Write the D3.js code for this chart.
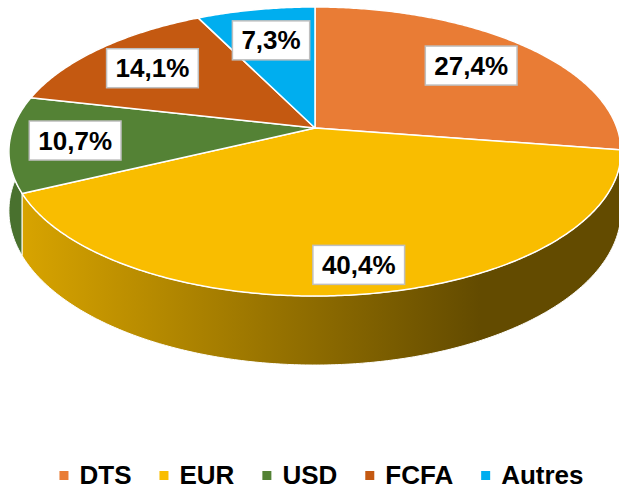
<!DOCTYPE html>
<html>
<head>
<meta charset="UTF-8">
<script src="https://cdn.jsdelivr.net/npm/d3@7"></script>
<style>
  body { margin: 0; background: #fff; }
  text { font-family: "Liberation Sans", Arial, sans-serif; font-weight: bold; }
</style>
</head>
<body>
<svg width="619" height="492"></svg>
<script>
// données
var categories = ["DTS", "EUR", "USD", "FCFA", "Autres"];
var shares = [27.4, 40.4, 10.7, 14.1, 7.3];
var colors = ["#E97C35", "#F9BD00", "#548235", "#C45911", "#00AEEF"];

var svg = d3.select("svg");
var width = +svg.attr("width");

// géométrie du camembert 3D (perspective)
var cx = 315, cy = 128;      // centre projeté
var rx = 302, ry = 140.7;    // demi-axes
var k = 0.1626;              // perspective
var depth = 57.8;            // épaisseur

var color = d3.scaleOrdinal(categories, colors);
var pct = d3.formatLocale({decimal: ",", thousands: " ", grouping: [3], currency: ["", ""]}).format(".1f");

function proj(a, r, h) {
  var u = r * Math.sin(a), v = r * Math.cos(a);
  var d = 1 + k * v;
  return [cx + rx * u / d, cy + (-ry * v + h * depth) / d];
}

function arcPts(a0, a1, h) {
  var n = Math.max(2, Math.ceil(Math.abs(a1 - a0) / 0.01));
  return d3.range(n + 1).map(function(i) { return proj(a0 + (a1 - a0) * i / n, 1, h); });
}

var line = d3.line();

var arcs = d3.pie().sort(null).value(function(d) { return d.value; })(
  categories.map(function(c, i) { return {name: c, value: shares[i]}; })
);

// dégradés des côtés
var defs = svg.append("defs");
arcs.forEach(function(d, i) {
  var base = d3.color(color(d.data.name));
  var g = defs.append("linearGradient")
    .attr("id", "side" + i)
    .attr("gradientUnits", "userSpaceOnUse")
    .attr("x1", 20).attr("x2", 480).attr("y1", 0).attr("y2", 0);
  g.append("stop").attr("offset", 0).attr("stop-color", base.darker(0.4));
  g.append("stop").attr("offset", 1).attr("stop-color", base.darker(2.6));
});

var g = svg.append("g");

// côtés, de l'arrière vers l'avant
var sides = arcs.slice().sort(function(a, b) {
  return Math.cos((b.startAngle + b.endAngle) / 2) - Math.cos((a.startAngle + a.endAngle) / 2);
});
g.append("g").selectAll("path")
  .data(sides)
  .enter()
  .append("path")
  .attr("d", function(d) {
    var top = arcPts(d.startAngle, d.endAngle, 0);
    var bot = arcPts(d.endAngle, d.startAngle, 1);
    return line(top.concat(bot)) + "Z";
  })
  .attr("fill", function(d) { return "url(#side" + d.index + ")"; })
  .attr("stroke", "#fff")
  .attr("stroke-width", 1);

// faces du dessus
g.append("g").selectAll("path")
  .data(arcs)
  .enter()
  .append("path")
  .attr("d", function(d) {
    return line([[cx, cy]].concat(arcPts(d.startAngle, d.endAngle, 0))) + "Z";
  })
  .attr("fill", function(d) { return color(d.data.name); })
  .attr("stroke", "#fff")
  .attr("stroke-width", 1.5)
  .attr("stroke-linejoin", "round");

// étiquettes
var labels = g.append("g").selectAll("g")
  .data(arcs)
  .enter()
  .append("g")
  .attr("transform", function(d) {
    var a = (d.startAngle + d.endAngle) / 2;
    var f = 0.78 - 0.07 * Math.cos(a);
    var p = proj(a, f, 0);
    return "translate(" + p[0] + "," + p[1] + ")";
  });

labels.append("rect")
  .attr("fill", "#fff")
  .attr("stroke", "#BFBFBF")
  .attr("stroke-width", 1.5);

labels.append("text")
  .attr("text-anchor", "middle")
  .attr("y", 9)
  .attr("font-size", 26)
  .attr("fill", "#000")
  .text(function(d) { return pct(d.data.value) + "%"; });

labels.each(function() {
  var t = d3.select(this).select("text").node().getComputedTextLength();
  d3.select(this).select("rect")
    .attr("x", -t / 2 - 9).attr("y", -19.5)
    .attr("width", t + 18).attr("height", 39);
});

// légende
var legend = svg.append("g");
var items = legend.selectAll("g")
  .data(categories)
  .enter()
  .append("g");

items.append("rect")
  .attr("y", 471)
  .attr("width", 9).attr("height", 9)
  .attr("fill", function(d) { return color(d); });

items.append("text")
  .attr("x", 20)
  .attr("y", 484)
  .attr("font-size", 26)
  .attr("fill", "#000")
  .text(function(d) { return d; });

var xpos = 0;
items.each(function() {
  var w = d3.select(this).select("text").node().getComputedTextLength();
  d3.select(this).attr("transform", "translate(" + xpos + ",0)");
  xpos += 20 + w + 28;
});
var total = xpos - 28;
legend.attr("transform", "translate(" + (321.5 - total / 2) + ",0)");
</script>
</body>
</html>
